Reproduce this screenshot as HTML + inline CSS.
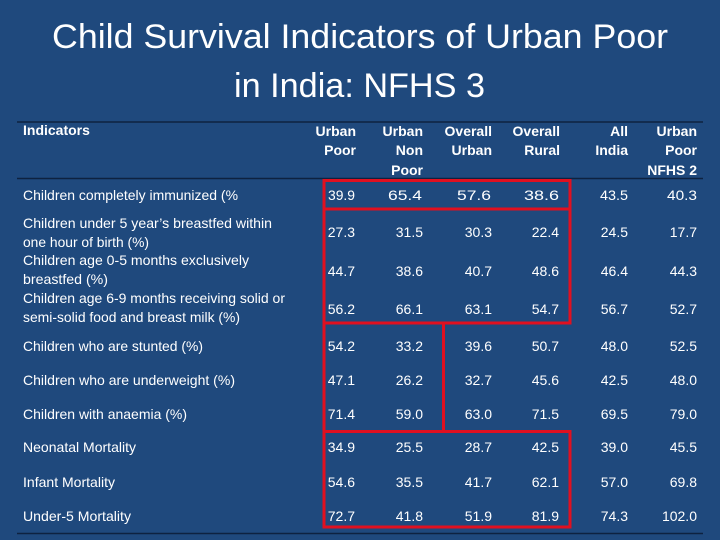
<!DOCTYPE html>
<html>
<head>
<meta charset="utf-8">
<style>
html,body{margin:0;padding:0;background:#1f497d;}
svg{display:block;}
</style>
</head>
<body>
<svg width="720" height="540" viewBox="0 0 720 540" xmlns="http://www.w3.org/2000/svg">
<rect width="720" height="540" fill="#1f497d"/>
<!-- Title -->
<g font-family="Liberation Sans, Arial, sans-serif" fill="#ffffff" font-size="34">
<text x="52" y="48" textLength="616" lengthAdjust="spacingAndGlyphs">Child Survival Indicators of Urban Poor</text>
<text x="234" y="97" textLength="251" lengthAdjust="spacingAndGlyphs">in India: NFHS 3</text>
</g>
<!-- table lines -->
<g stroke="#0e2240" stroke-width="1.6">
<line x1="17" y1="122" x2="703" y2="122"/>
<line x1="17" y1="178.5" x2="703" y2="178.5"/>
<line x1="17" y1="533.5" x2="703" y2="533.5"/>
</g>
<!-- header -->
<g font-family="Liberation Sans, Arial, sans-serif" fill="#ffffff" font-size="14" font-weight="bold">
<text x="23" y="135">Indicators</text>
<g text-anchor="end">
<text x="356" y="136">Urban</text><text x="356" y="155">Poor</text>
<text x="423" y="136">Urban</text><text x="423" y="155">Non</text><text x="423" y="175">Poor</text>
<text x="492" y="136">Overall</text><text x="492" y="155">Urban</text>
<text x="560" y="136">Overall</text><text x="560" y="155">Rural</text>
<text x="628" y="136">All</text><text x="628" y="155">India</text>
<text x="697" y="136">Urban</text><text x="697" y="155">Poor</text><text x="697" y="175">NFHS 2</text>
</g>
</g>
<!-- labels -->
<g font-family="Liberation Sans, Arial, sans-serif" fill="#ffffff" font-size="14">
<text x="23" y="200" textLength="215" lengthAdjust="spacingAndGlyphs">Children completely immunized (%</text>
<text x="23" y="228" textLength="249" lengthAdjust="spacingAndGlyphs">Children under 5 year’s breastfed within</text>
<text x="23" y="247" textLength="126" lengthAdjust="spacingAndGlyphs">one hour of birth (%)</text>
<text x="23" y="265" textLength="226" lengthAdjust="spacingAndGlyphs">Children age 0-5 months exclusively</text>
<text x="23" y="284" textLength="85" lengthAdjust="spacingAndGlyphs">breastfed (%)</text>
<text x="23" y="303" textLength="262" lengthAdjust="spacingAndGlyphs">Children age 6-9 months receiving solid or</text>
<text x="23" y="322" textLength="217" lengthAdjust="spacingAndGlyphs">semi-solid food and breast milk (%)</text>
<text x="23" y="351" textLength="180" lengthAdjust="spacingAndGlyphs">Children who are stunted (%)</text>
<text x="23" y="385" textLength="212" lengthAdjust="spacingAndGlyphs">Children who are underweight (%)</text>
<text x="23" y="419" textLength="164" lengthAdjust="spacingAndGlyphs">Children with anaemia (%)</text>
<text x="23" y="452" textLength="113" lengthAdjust="spacingAndGlyphs">Neonatal Mortality</text>
<text x="23" y="487" textLength="92" lengthAdjust="spacingAndGlyphs">Infant Mortality</text>
<text x="23" y="521" textLength="108" lengthAdjust="spacingAndGlyphs">Under-5 Mortality</text>
</g>
<!-- values -->
<g font-family="Liberation Sans, Arial, sans-serif" fill="#ffffff" font-size="14">
<!-- row 1 -->
<text x="328" y="200" textLength="27" lengthAdjust="spacingAndGlyphs">39.9</text>
<text x="388" y="200" textLength="34" lengthAdjust="spacingAndGlyphs">65.4</text>
<text x="457" y="200" textLength="34" lengthAdjust="spacingAndGlyphs">57.6</text>
<text x="524" y="200" textLength="35" lengthAdjust="spacingAndGlyphs">38.6</text>
<text x="600" y="200" textLength="28" lengthAdjust="spacingAndGlyphs">43.5</text>
<text x="667" y="200" textLength="30" lengthAdjust="spacingAndGlyphs">40.3</text>
<g text-anchor="end">
<!-- row 2 -->
<text x="355" y="237">27.3</text><text x="423" y="237">31.5</text><text x="492" y="237">30.3</text><text x="559" y="237">22.4</text><text x="628" y="237">24.5</text><text x="697" y="237">17.7</text>
<!-- row 3 -->
<text x="355" y="276">44.7</text><text x="423" y="276">38.6</text><text x="492" y="276">40.7</text><text x="559" y="276">48.6</text><text x="628" y="276">46.4</text><text x="697" y="276">44.3</text>
<!-- row 4 -->
<text x="355" y="314">56.2</text><text x="423" y="314">66.1</text><text x="492" y="314">63.1</text><text x="559" y="314">54.7</text><text x="628" y="314">56.7</text><text x="697" y="314">52.7</text>
<!-- stunted -->
<text x="355" y="351">54.2</text><text x="423" y="351">33.2</text><text x="492" y="351">39.6</text><text x="559" y="351">50.7</text><text x="628" y="351">48.0</text><text x="697" y="351">52.5</text>
<!-- underweight -->
<text x="355" y="385">47.1</text><text x="423" y="385">26.2</text><text x="492" y="385">32.7</text><text x="559" y="385">45.6</text><text x="628" y="385">42.5</text><text x="697" y="385">48.0</text>
<!-- anaemia -->
<text x="355" y="419">71.4</text><text x="423" y="419">59.0</text><text x="492" y="419">63.0</text><text x="559" y="419">71.5</text><text x="628" y="419">69.5</text><text x="697" y="419">79.0</text>
<!-- neonatal -->
<text x="355" y="452">34.9</text><text x="423" y="452">25.5</text><text x="492" y="452">28.7</text><text x="559" y="452">42.5</text><text x="628" y="452">39.0</text><text x="697" y="452">45.5</text>
<!-- infant -->
<text x="355" y="487">54.6</text><text x="423" y="487">35.5</text><text x="492" y="487">41.7</text><text x="559" y="487">62.1</text><text x="628" y="487">57.0</text><text x="697" y="487">69.8</text>
<!-- under-5 -->
<text x="355" y="521">72.7</text><text x="423" y="521">41.8</text><text x="492" y="521">51.9</text><text x="559" y="521">81.9</text><text x="628" y="521">74.3</text>
<text x="697" y="521">102.0</text>
</g>
</g>
<!-- red boxes -->
<g fill="none" stroke="#e01020" stroke-width="3">
<rect x="324" y="180.5" width="246" height="28.5"/>
<rect x="324" y="209" width="246" height="114"/>
<rect x="324" y="323" width="119.5" height="108.5"/>
<rect x="324" y="431.5" width="246" height="95.5"/>
</g>
</svg>
</body>
</html>
